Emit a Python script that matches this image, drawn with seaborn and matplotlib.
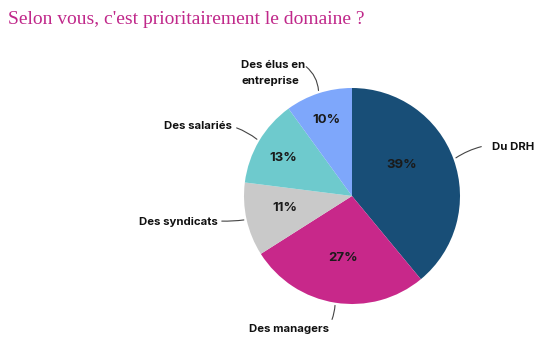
import matplotlib
matplotlib.use("Agg")
import matplotlib.pyplot as plt
import seaborn as sns
import numpy as np

categories = ["Du DRH", "Des managers", "Des syndicats", "Des salariés", "Des élus en\nentreprise"]
values = [39, 27, 11, 13, 10]
colors = ["#184E77", "#C8288A", "#C9C9C9", "#6ECACD", "#7EA7FB"]
title = "Selon vous, c'est prioritairement le domaine ?"

sns.set_theme(style="white")
plt.rcParams['font.family'] = ['Inter', 'DejaVu Sans']

W, H = 555, 348
fig = plt.figure(figsize=(W / 100, H / 100), dpi=100)
cx, cy, R = 352, 196, 108
ax = fig.add_axes([(cx - R) / W, (H - cy - R) / H, 2 * R / W, 2 * R / H])

wedges, texts, autotexts = ax.pie(
    values, colors=colors, startangle=90, counterclock=False,
    autopct=lambda p: f"{p:.0f}%", pctdistance=0.56,
    wedgeprops=dict(linewidth=0),
    textprops=dict(fontsize=9.5, fontweight="bold", color="#1a1a1a"))
ax.set_xlim(-1, 1)
ax.set_ylim(-1, 1)
ax.set_aspect("equal")
ax.axis("off")

def px(x, y):
    return ((x - cx) / R, (cy - y) / R)

# percent label placement (pixels)
pct_pos = [(402, 165), (343, 258), (285, 208), (283, 158), (326, 120)]
for at, p in zip(autotexts, pct_pos):
    at.set_position(px(*p))

# label text positions (pixels) and line start points, per category
label_specs = [
    dict(txt=(492, 147), ha="left", line=(484, 146), rad=0.1),
    dict(txt=(289, 329), ha="center", line=(331, 322), rad=0.1),
    dict(txt=(218, 222), ha="right", line=(219, 221), rad=0.05),
    dict(txt=(232, 126), ha="right", line=(234, 127), rad=-0.1),
    dict(txt=(241, 73), ha="left", line=(304, 65), rad=-0.25),
]

for w, cat, spec in zip(wedges, categories, label_specs):
    ang = np.deg2rad((w.theta1 + w.theta2) / 2)
    edge = (np.cos(ang), np.sin(ang))
    tx, ty = px(*spec["txt"])
    ax.text(tx, ty, cat, ha=spec["ha"], va="center", fontsize=8.2,
            fontweight="bold", color="#111111", linespacing=1.75,
            clip_on=False, multialignment="left")
    ax.annotate("", xy=edge, xytext=px(*spec["line"]),
                arrowprops=dict(arrowstyle="-", color="#444444", lw=0.8,
                                connectionstyle=f"arc3,rad={spec['rad']}"),
                annotation_clip=False)

fig.text(8 / W, 1 - 20 / H, title, ha="left", va="center",
         fontsize=14, color="#C0288A", family="Liberation Serif")

fig.savefig("out.png", dpi=100)
